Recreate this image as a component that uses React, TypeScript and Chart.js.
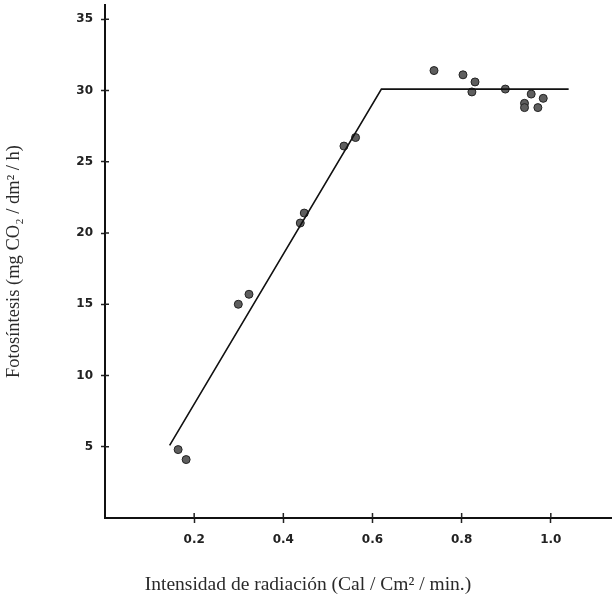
import React, { useEffect, useRef } from "react";
import { Chart, registerables } from "chart.js";

Chart.register(...registerables);

// Measured points (radiation intensity, photosynthesis)
const pointsX = [0.164, 0.182, 0.299, 0.323, 0.438, 0.447, 0.536, 0.562, 0.738, 0.803, 0.83, 0.823, 0.898, 0.941, 0.941, 0.956, 0.971, 0.983];
const pointsY = [4.8, 4.1, 15.0, 15.7, 20.7, 21.4, 26.1, 26.7, 31.4, 31.1, 30.6, 29.9, 30.1, 29.1, 28.8, 29.75, 28.8, 29.45];

// Fitted broken line
const fitX = [0.145, 0.62, 1.04];
const fitY = [5.1, 30.1, 30.1];

// Tick values
const xTicks = [0.2, 0.4, 0.6, 0.8, 1.0];
const xTickLabels = ["0.2", "0.4", "0.6", "0.8", "1.0"];
const yTicks = [5, 10, 15, 20, 25, 30, 35];

const xTitle = "Intensidad de radiación (Cal / Cm² / min.)";
const yTitle = "Fotosíntesis (mg CO₂ / dm² / h)";

const innerTicks = {
  id: "innerTicks",
  afterDraw(chart: any) {
    const { ctx, chartArea } = chart;
    const x = chart.scales.x;
    const y = chart.scales.y;
    ctx.save();
    ctx.strokeStyle = "#222";
    ctx.lineWidth = 1.5;
    x.ticks.forEach((t: any) => {
      const px = x.getPixelForValue(t.value);
      ctx.beginPath();
      ctx.moveTo(px, chartArea.bottom);
      ctx.lineTo(px, chartArea.bottom - 5);
      ctx.stroke();
    });
    y.ticks.forEach((t: any) => {
      const py = y.getPixelForValue(t.value);
      ctx.beginPath();
      ctx.moveTo(chartArea.left, py);
      ctx.lineTo(chartArea.left + 4, py);
      ctx.stroke();
    });
    ctx.restore();
  },
};

export default function App() {
  const ref = useRef<HTMLCanvasElement | null>(null);
  useEffect(() => {
    if (!ref.current) return;
    const tickFont = { family: "'DejaVu Sans', sans-serif", size: 12, weight: "bold" as const };
    const chart = new Chart(ref.current, {
      type: "scatter",
      data: {
        datasets: [
          {
            type: "line",
            data: fitX.map((v, i) => ({ x: v, y: fitY[i] })),
            borderColor: "#111",
            borderWidth: 1.6,
            pointRadius: 0,
            fill: false,
            tension: 0,
          } as any,
          {
            data: pointsX.map((v, i) => ({ x: v, y: pointsY[i] })),
            pointRadius: 4,
            backgroundColor: "#5e5e5e",
            borderColor: "#222",
            borderWidth: 1,
          },
        ],
      },
      options: {
        responsive: false,
        animation: false,
        devicePixelRatio: 1,
        layout: { padding: { top: 5, left: 0, right: 0, bottom: 0 } },
        plugins: {
          legend: { display: false },
          tooltip: { enabled: false },
          title: {
            display: true,
            position: "bottom",
            text: xTitle,
            color: "#2a2a2a",
            font: { family: "'Liberation Serif', serif", size: 19.5, weight: "normal" },
            padding: { top: 0, bottom: 8.3 },
          },
        },
        scales: {
          x: {
            type: "linear",
            min: 0,
            max: 1.135,
            afterFit: (s: any) => {
              s.height = 55.3;
              s.paddingLeft = 0;
              s.paddingRight = 0;
            },
            afterBuildTicks: (s: any) => {
              s.ticks = xTicks.map((v) => ({ value: v }));
            },
            ticks: {
              callback: (v: any) => {
                const i = xTicks.indexOf(Number(v));
                return i >= 0 ? xTickLabels[i] : "";
              },
              color: "#222",
              font: tickFont,
              padding: 10,
              maxRotation: 0,
            },
            grid: {
              drawOnChartArea: false,
              drawTicks: true,
              tickLength: 5,
              tickWidth: 1.5,
              tickColor: "#222",
            },
            border: { display: true, color: "#111", width: 2 },
          },
          y: {
            type: "linear",
            min: 0,
            max: 36,
            afterFit: (s: any) => {
              s.width = 105;
              s.paddingTop = 0;
              s.paddingBottom = 0;
            },
            afterBuildTicks: (s: any) => {
              s.ticks = yTicks.map((v) => ({ value: v }));
            },
            ticks: {
              color: "#222",
              font: tickFont,
              padding: 8,
            },
            grid: {
              drawOnChartArea: false,
              drawTicks: true,
              tickLength: 4,
              tickWidth: 1.5,
              tickColor: "#222",
            },
            border: { display: true, color: "#111", width: 2 },
            title: {
              display: true,
              text: yTitle,
              color: "#2a2a2a",
              font: { family: "'Liberation Serif', serif", size: 18.5, weight: "normal" },
              padding: { top: 3, bottom: 0 },
            },
          },
        },
      },
      plugins: [innerTicks],
    });
    return () => chart.destroy();
  }, []);
  return (
    <div style={{ position: "absolute", left: 0, top: 0, width: 616, height: 605, background: "#fff" }}>
      <canvas ref={ref} width={616} height={605} />
    </div>
  );
}
